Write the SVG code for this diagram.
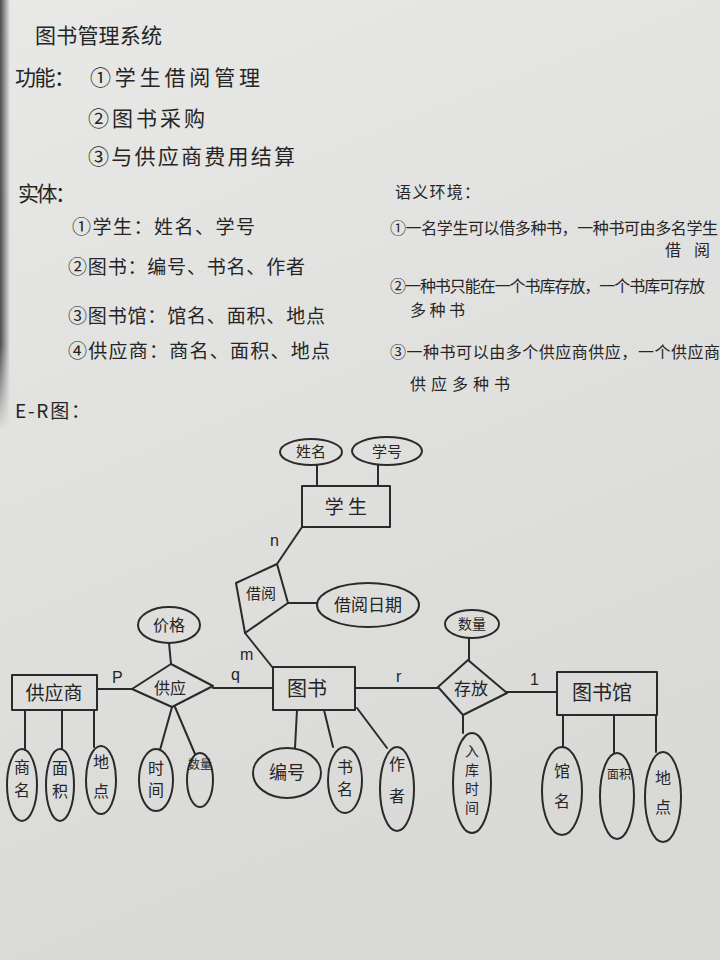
<svg xmlns="http://www.w3.org/2000/svg" width="720" height="960" viewBox="0 0 720 960">
<defs>
<linearGradient id="paper" x1="0" y1="0" x2="0.3" y2="1">
<stop offset="0" stop-color="#e8e8e6"/>
<stop offset="1" stop-color="#d9d9d7"/>
</linearGradient>
<linearGradient id="edge" x1="0" y1="0" x2="1" y2="0">
<stop offset="0" stop-color="#3a3a3c" stop-opacity="0.9"/>
<stop offset="1" stop-color="#3a3a3c" stop-opacity="0"/>
</linearGradient>
<linearGradient id="fade" x1="0" y1="0" x2="0" y2="1">
<stop offset="0" stop-color="#fff"/>
<stop offset="0.8" stop-color="#fff"/>
<stop offset="1" stop-color="#000"/>
</linearGradient>
<mask id="edgemask"><rect x="0" y="0" width="12" height="430" fill="url(#fade)"/></mask>
</defs>
<style>
.ink{fill:none;stroke:#2a2a2a;stroke-width:2;stroke-linecap:round;stroke-linejoin:round}
.t{font-family:"Noto Sans CJK SC","Noto Sans CJK JP",sans-serif;fill:#252525}
.c{text-anchor:middle}
.h{font-size:21px}
.b{font-size:19px}
.s{font-size:16px}
.l{font-family:"Liberation Sans",sans-serif;font-size:16px;fill:#252525}
</style>
<rect x="0" y="0" width="720" height="960" fill="url(#paper)"/>
<rect x="0" y="0" width="10" height="430" fill="url(#edge)" mask="url(#edgemask)"/>

<g id="notes">
<text class="t h" x="35" y="43" textLength="127">图书管理系统</text>
<text class="t h" x="15" y="85" textLength="60">功能：</text>
<text class="t h" x="90" y="85" textLength="170">①学生借阅管理</text>
<text class="t h" x="88" y="126" textLength="117">②图书采购</text>
<text class="t h" x="88" y="164" textLength="207">③与供应商费用结算</text>
<text class="t h" x="18" y="201" textLength="58">实体：</text>
<text class="t b" x="72" y="234" textLength="183">①学生：姓名、学号</text>
<text class="t b" x="68" y="274" textLength="237">②图书：编号、书名、作者</text>
<text class="t b" x="68" y="323" textLength="257">③图书馆：馆名、面积、地点</text>
<text class="t b" x="68" y="358" textLength="262">④供应商：商名、面积、地点</text>
<text class="t b" x="15" y="418" textLength="75">E-R图：</text>
<text class="t s" x="395" y="198" textLength="85">语义环境：</text>
<text class="t s" x="390" y="234" textLength="328">①一名学生可以借多种书，一种书可由多名学生</text>
<text class="t s" x="665" y="256" textLength="45">借阅</text>
<text class="t s" x="390" y="292" textLength="315">②一种书只能在一个书库存放，一个书库可存放</text>
<text class="t s" x="410" y="316" textLength="55">多种书</text>
<text class="t s" x="390" y="358" textLength="330">③一种书可以由多个供应商供应，一个供应商</text>
<text class="t s" x="410" y="390" textLength="100">供应多种书</text>
</g>

<g id="connectors" class="ink">
<line x1="317" y1="465" x2="317" y2="486"/>
<line x1="378" y1="465" x2="378" y2="486"/>
<line x1="302" y1="527" x2="277" y2="564"/>
<line x1="288" y1="603" x2="317" y2="603"/>
<line x1="245" y1="633" x2="273" y2="668"/>
<line x1="169" y1="643" x2="171" y2="664"/>
<line x1="97" y1="689" x2="132" y2="689"/>
<line x1="213" y1="688" x2="273" y2="688"/>
<line x1="25" y1="710" x2="25" y2="750"/>
<line x1="62" y1="710" x2="62" y2="749"/>
<line x1="94" y1="710" x2="94" y2="747"/>
<line x1="172" y1="707" x2="160" y2="750"/>
<line x1="175" y1="707" x2="195" y2="754"/>
<line x1="297" y1="710" x2="295" y2="748"/>
<line x1="324" y1="710" x2="333" y2="747"/>
<line x1="357" y1="708" x2="387" y2="748"/>
<line x1="355" y1="688" x2="438" y2="688"/>
<line x1="469" y1="638" x2="469" y2="660"/>
<line x1="463" y1="715" x2="463" y2="733"/>
<line x1="507" y1="692" x2="557" y2="692"/>
<line x1="563" y1="715" x2="563" y2="747"/>
<line x1="614" y1="715" x2="614" y2="753"/>
<line x1="656" y1="715" x2="656" y2="752"/>
</g>

<g id="cardinalities">
<text class="l" x="270" y="546">n</text>
<text class="l" x="240" y="660">m</text>
<text class="l" x="231" y="680">q</text>
<text class="l" x="112" y="683">P</text>
<text class="l" x="396" y="682">r</text>
<text class="l" x="530" y="685">1</text>
</g>

<g id="student">
<rect class="ink" x="302" y="486" width="88" height="41"/>
<text class="t c b" x="346" y="514">学 生</text>
</g>
<g id="attr-name">
<ellipse class="ink" cx="311" cy="452" rx="31" ry="13"/>
<text class="t c" font-size="15" x="311" y="457">姓名</text>
</g>
<g id="attr-sno">
<ellipse class="ink" cx="387" cy="451" rx="35" ry="14"/>
<text class="t c" font-size="15" x="387" y="457">学号</text>
</g>
<g id="borrow">
<polygon class="ink" points="236,583 277,564 288,603 245,633"/>
<text class="t c" font-size="15" x="261" y="599">借阅</text>
</g>
<g id="attr-borrowdate">
<ellipse class="ink" cx="368" cy="605" rx="51" ry="22"/>
<text class="t c" font-size="17" x="368" y="611">借阅日期</text>
</g>
<g id="supply">
<polygon class="ink" points="132,689 171,664 213,686 172,707"/>
<text class="t c s" x="170" y="694">供应</text>
</g>
<g id="attr-price">
<ellipse class="ink" cx="169" cy="625" rx="31" ry="18"/>
<text class="t c s" x="169" y="631">价格</text>
</g>
<g id="attr-supplytime">
<ellipse class="ink" cx="156" cy="780" rx="17" ry="31"/>
<text class="t c s" x="156" y="774">时</text>
<text class="t c s" x="156" y="796">间</text>
</g>
<g id="attr-supplyqty">
<ellipse class="ink" cx="200" cy="780" rx="13" ry="27"/>
<text class="t c" font-size="12" x="200" y="769">数量</text>
</g>
<g id="supplier">
<rect class="ink" x="12" y="675" width="85" height="35"/>
<text class="t c b" x="54" y="700">供应商</text>
</g>
<g id="attr-sname">
<ellipse class="ink" cx="22" cy="785" rx="15" ry="36"/>
<text class="t c s" x="22" y="773">商</text>
<text class="t c s" x="22" y="796">名</text>
</g>
<g id="attr-sarea">
<ellipse class="ink" cx="60" cy="785" rx="14" ry="36"/>
<text class="t c s" x="60" y="774">面</text>
<text class="t c s" x="60" y="797">积</text>
</g>
<g id="attr-splace">
<ellipse class="ink" cx="101" cy="780" rx="15" ry="34"/>
<text class="t c s" x="101" y="768">地</text>
<text class="t c s" x="101" y="797">点</text>
</g>
<g id="book">
<rect class="ink" x="273" y="667" width="82" height="43"/>
<text class="t c" font-size="20" x="307" y="696">图书</text>
</g>
<g id="attr-bno">
<ellipse class="ink" cx="287" cy="773" rx="34" ry="25"/>
<text class="t c" font-size="18" x="287" y="779">编号</text>
</g>
<g id="attr-bname">
<ellipse class="ink" cx="345" cy="780" rx="17" ry="33"/>
<text class="t c s" x="345" y="773">书</text>
<text class="t c s" x="345" y="795">名</text>
</g>
<g id="attr-author">
<ellipse class="ink" cx="397" cy="789" rx="17" ry="42"/>
<text class="t c s" x="397" y="770">作</text>
<text class="t c s" x="397" y="802">者</text>
</g>
<g id="store">
<polygon class="ink" points="438,687 468,660 507,693 463,715"/>
<text class="t c" font-size="17" x="471" y="695">存放</text>
</g>
<g id="attr-qty">
<ellipse class="ink" cx="472" cy="624" rx="27" ry="14"/>
<text class="t c" font-size="14" x="472" y="629">数量</text>
</g>
<g id="attr-intime">
<ellipse class="ink" cx="472" cy="783" rx="19" ry="50"/>
<text class="t c" font-size="14" x="472" y="756">入</text>
<text class="t c" font-size="14" x="472" y="775">库</text>
<text class="t c" font-size="14" x="472" y="794">时</text>
<text class="t c" font-size="14" x="472" y="813">间</text>
</g>
<g id="library">
<rect class="ink" x="557" y="672" width="100" height="43"/>
<text class="t c" font-size="20" x="602" y="700">图书馆</text>
</g>
<g id="attr-lname">
<ellipse class="ink" cx="562" cy="791" rx="20" ry="44"/>
<text class="t c s" x="562" y="777">馆</text>
<text class="t c s" x="562" y="807">名</text>
</g>
<g id="attr-larea">
<ellipse class="ink" cx="617" cy="796" rx="17" ry="43"/>
<text class="t c" font-size="12" x="619" y="779">面积</text>
</g>
<g id="attr-lplace">
<ellipse class="ink" cx="663" cy="797" rx="18" ry="45"/>
<text class="t c s" x="663" y="784">地</text>
<text class="t c s" x="663" y="813">点</text>
</g>
</svg>
